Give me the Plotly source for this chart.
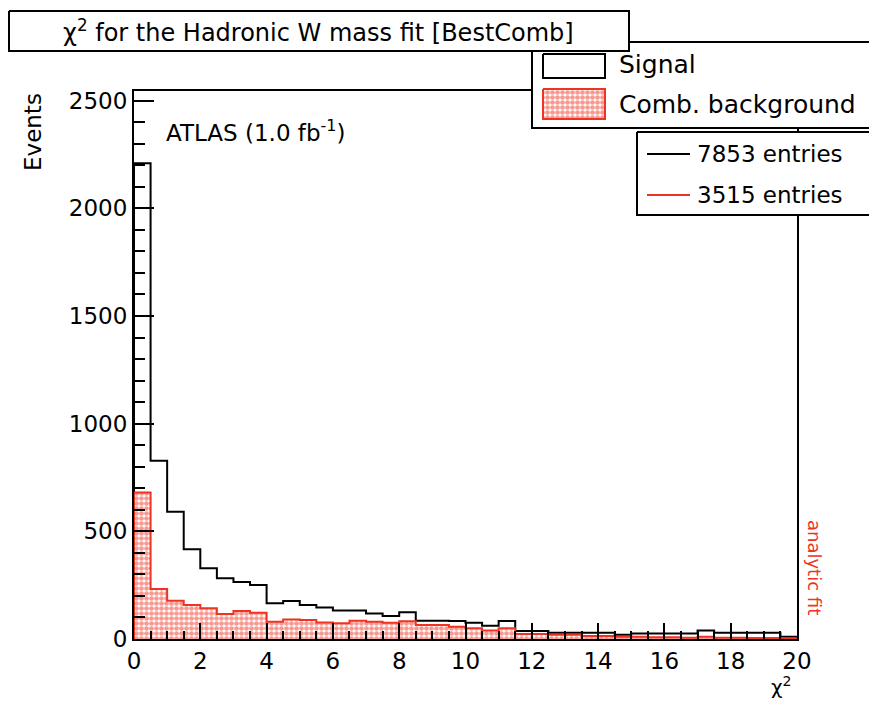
import plotly.graph_objects as go

# chi^2 histogram, 40 bins of width 0.5 between 0 and 20
bin_width = 0.5
n_bins = 40
bin_edges = [i * bin_width for i in range(n_bins + 1)]

signal_counts = [
    2210, 828, 591, 417, 328, 282, 265, 251, 166, 177,
    158, 146, 132, 132, 119, 107, 124, 85, 85, 84,
    76, 62, 84, 37, 37, 29, 29, 29, 29, 20,
    25, 25, 25, 25, 39, 29, 29, 29, 29, 11,
]
comb_bkg_counts = [
    680, 232, 178, 158, 143, 116, 130, 122, 80, 91,
    88, 77, 73, 85, 80, 76, 82, 65, 65, 57,
    50, 39, 50, 23, 23, 20, 20, 14, 14, 10,
    10, 8, 8, 6, 10, 6, 6, 5, 5, 4,
]
signal_entries = 7853
comb_bkg_entries = 3515

x_ticks = [0, 2, 4, 6, 8, 10, 12, 14, 16, 18, 20]
y_ticks = [0, 500, 1000, 1500, 2000, 2500]

RED = "#ee3322"
FONT = "DejaVu Sans"
W, H = 869, 701
DOTS = dict(shape=".", fgcolor=RED, bgcolor="white", size=5, solidity=0.7)


def step_outline(edges, counts):
    """Closed histogram outline for an 'hv' line."""
    xs = [edges[0]] + edges[:-1] + [edges[-1], edges[-1]]
    ys = [0] + list(counts) + [counts[-1], 0]
    return xs, ys


fig = go.Figure()

sx, sy = step_outline(bin_edges, signal_counts)
fig.add_trace(go.Scatter(
    x=sx, y=sy, mode="lines", line=dict(color="black", width=2, shape="hv"),
    xaxis="x", yaxis="y", hoverinfo="skip",
))

bx, by = step_outline(bin_edges, comb_bkg_counts)
fig.add_trace(go.Scatter(
    x=bx, y=by, mode="lines", line=dict(color=RED, width=2, shape="hv"),
    fill="tozeroy", fillcolor="white", fillpattern=DOTS,
    xaxis="x", yaxis="y", hoverinfo="skip",
))


# ---- overlay drawn in figure pixel coordinates (x2/y2) ----
def box(x0, y0, x1, y1, line_color="black", fill="white", pattern=None):
    fig.add_trace(go.Scatter(
        x=[x0, x1, x1, x0, x0], y=[y0, y0, y1, y1, y0],
        mode="lines", line=dict(color=line_color, width=2),
        fill="toself", fillcolor=fill, fillpattern=pattern,
        xaxis="x2", yaxis="y2", hoverinfo="skip",
    ))


def seg(x0, y0, x1, y1, color):
    fig.add_trace(go.Scatter(
        x=[x0, x1], y=[y0, y1], mode="lines", line=dict(color=color, width=2),
        xaxis="x2", yaxis="y2", hoverinfo="skip",
    ))


# stack legend
box(532, 42, 890, 128)
box(543, 54, 605, 78)
box(543, 89, 605, 119, line_color=RED, pattern=DOTS)
# entries legend
box(637, 132, 890, 215)
seg(647, 154, 690, 154, "black")
seg(647, 195, 690, 195, RED)
# title box
box(9, 11, 629, 51)

fig.update_layout(
    width=W, height=H, autosize=False,
    margin=dict(l=0, r=0, t=0, b=0, pad=0, autoexpand=False),
    paper_bgcolor="white", plot_bgcolor="rgba(0,0,0,0)",
    showlegend=False,
    font=dict(family=FONT, color="black"),
    xaxis=dict(
        domain=[134 / W, 797 / W], range=[0, 20], anchor="y", automargin=False,
        tickmode="array", tickvals=x_ticks, ticktext=[str(v) for v in x_ticks],
        ticks="inside", ticklen=16, tickwidth=2, tickcolor="black",
        minor=dict(dtick=0.5, ticks="inside", ticklen=8, tickwidth=2, tickcolor="black"),
        showline=True, mirror=True, linewidth=2, linecolor="black",
        showgrid=False, zeroline=False,
        tickfont=dict(family=FONT, size=23, color="black"),
    ),
    yaxis=dict(
        domain=[1 - 639 / H, 1 - 91 / H], range=[0, 2545], anchor="x", automargin=False,
        tickmode="array", tickvals=y_ticks, ticktext=[str(v) for v in y_ticks],
        ticks="inside", ticklen=20, tickwidth=2, tickcolor="black",
        minor=dict(dtick=100, ticks="inside", ticklen=11, tickwidth=2, tickcolor="black"),
        showline=True, mirror=True, linewidth=2, linecolor="black",
        showgrid=False, zeroline=False,
        tickfont=dict(family=FONT, size=23, color="black"),
    ),
    xaxis2=dict(domain=[0, 1], range=[0, W], anchor="y2", visible=False, fixedrange=True,
                automargin=False),
    yaxis2=dict(domain=[0, 1], range=[H, 0], anchor="x2", visible=False, fixedrange=True,
                automargin=False),
)

ann = [
    dict(x=318, y=31, text="χ<sup>2</sup> for the Hadronic W mass fit [BestComb]",
         xanchor="center", yanchor="middle", font=dict(size=24)),
    dict(x=617, y=64, text="Signal", xanchor="left", yanchor="middle", font=dict(size=25)),
    dict(x=617, y=104, text="Comb. background", xanchor="left", yanchor="middle",
         font=dict(size=25)),
    dict(x=695, y=154, text=f"{signal_entries} entries", xanchor="left", yanchor="middle",
         font=dict(size=23)),
    dict(x=695, y=195, text=f"{comb_bkg_entries} entries", xanchor="left", yanchor="middle",
         font=dict(size=23)),
    dict(x=164, y=131, text="ATLAS (1.0 fb<sup>-1</sup>)", xanchor="left", yanchor="middle",
         font=dict(size=23)),
    dict(x=33, y=91, text="Events", textangle=-90, xanchor="center", yanchor="top",
         font=dict(size=23)),
    dict(x=792, y=700, text="χ<sup>2</sup>", xanchor="right", yanchor="bottom",
         font=dict(size=20), borderpad=0),
    dict(x=815, y=567, text="analytic fit", textangle=90, xanchor="center", yanchor="middle",
         font=dict(size=18, color=RED)),
]
for a in ann:
    a.update(xref="x2", yref="y2", showarrow=False)
    a.setdefault("font", {})
    a["font"].setdefault("family", FONT)
    a["font"].setdefault("color", "black")
fig.update_layout(annotations=ann)

fig.write_html("out.html")
